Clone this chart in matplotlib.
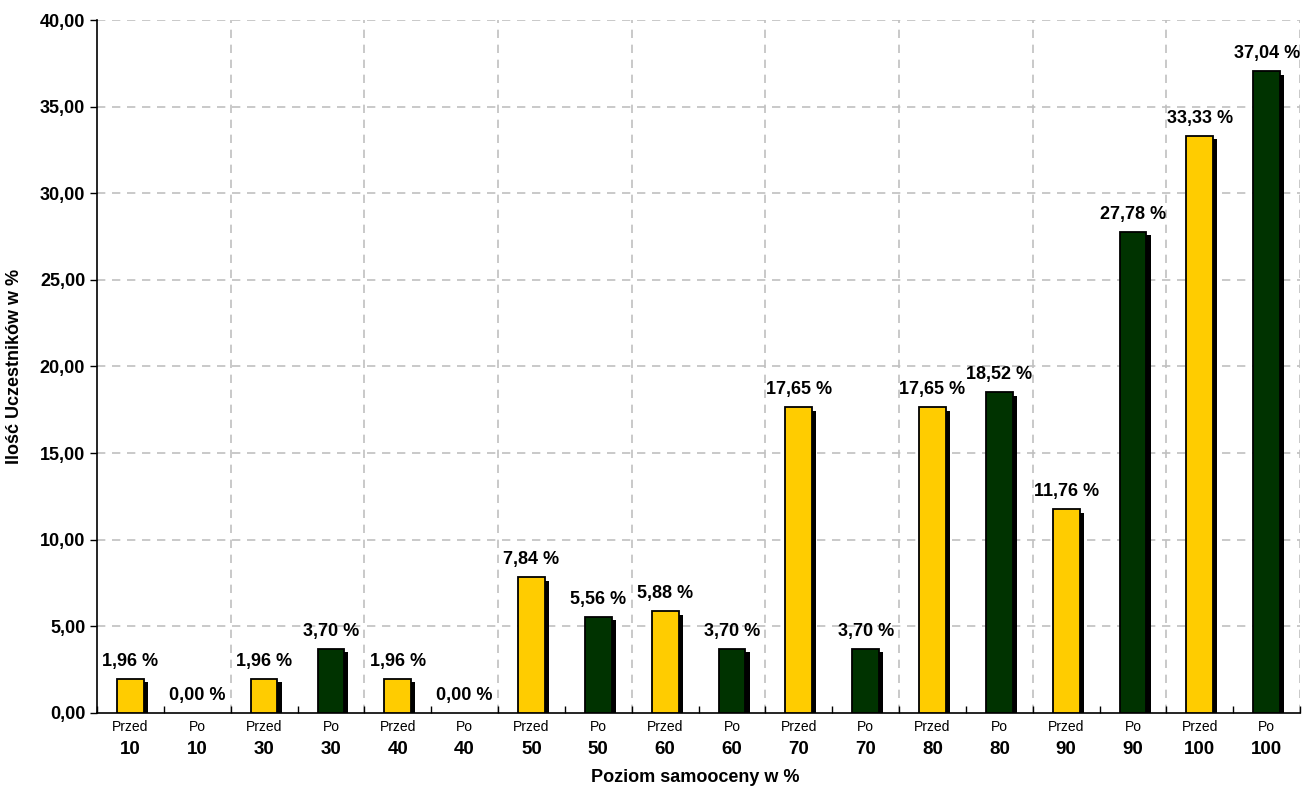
import numpy as np
import matplotlib.pyplot as plt
import matplotlib.patheffects as pe
from matplotlib.ticker import FuncFormatter, MultipleLocator

plt.rcParams['font.family'] = ['Liberation Sans', 'DejaVu Sans']

# data
levels = ["10", "30", "40", "50", "60", "70", "80", "90", "100"]
przed = [1.96, 1.96, 1.96, 7.84, 5.88, 17.65, 17.65, 11.76, 33.33]
po = [0.00, 3.70, 0.00, 5.56, 3.70, 3.70, 18.52, 27.78, 37.04]

labels_top = []
labels_bot = []
values = []
colors = []
for lv, a, b in zip(levels, przed, po):
    labels_top += ["Przed", "Po"]
    labels_bot += [lv, lv]
    values += [a, b]
    colors += ["#FFCC00", "#003300"]

fig = plt.figure(figsize=(13.04, 7.88), dpi=100)
ax = fig.add_axes([0.0744, 0.0952, 0.9226, 0.8794])

x = np.arange(len(values))
shadow = [pe.SimplePatchShadow(offset=(3, -2.5), shadow_rgbFace='black', alpha=1.0), pe.Normal()]
for xi, v, c in zip(x, values, colors):
    if v <= 0:
        continue
    b = ax.bar(xi, v, width=0.4, color=c, edgecolor='black', linewidth=1.3, zorder=3)
    b[0].set_path_effects(shadow)

for xi, v in zip(x, values):
    txt = f"{v:.2f} %".replace('.', ',')
    ax.annotate(txt, (xi, v), xytext=(0, 6.5), textcoords='offset points',
                ha='center', va='bottom', fontsize=13, fontweight='bold', zorder=4)

ax.set_xlim(-0.5, len(values) - 0.5)
ax.set_ylim(0, 40)
ax.yaxis.set_major_locator(MultipleLocator(5))
ax.yaxis.set_major_formatter(FuncFormatter(lambda v, p: f"{v:.2f}".replace('.', ',')))
ax.tick_params(axis='y', labelsize=13, length=5, width=1, direction='out')
for t in ax.get_yticklabels():
    t.set_fontweight('bold')

# horizontal grid
for yv in np.arange(5, 41, 5):
    ax.axhline(yv, color='#C0C0C0', linestyle=(0, (5, 4)), linewidth=1.2, zorder=1)
# vertical grid between groups and on the right edge
for xv in np.arange(1.5, len(values) + 0.5, 2):
    ax.axvline(xv, color='#C0C0C0', linestyle=(0, (5, 4)), linewidth=1.2, zorder=1)

ax.spines['top'].set_visible(False)
ax.spines['right'].set_visible(False)
ax.spines['left'].set_linewidth(1.2)
ax.spines['bottom'].set_linewidth(1.2)

# bottom ticks at slot boundaries
ax.set_xticks(np.arange(-0.5, len(values), 1))
ax.set_xticklabels([])
ax.tick_params(axis='x', direction='in', length=5, width=1)

trans = ax.get_xaxis_transform()
for xi, t1, t2 in zip(x, labels_top, labels_bot):
    ax.text(xi, -0.010, t1, transform=trans, ha='center', va='top', fontsize=10)
    ax.text(xi, -0.040, t2, transform=trans, ha='center', va='top', fontsize=13.5, fontweight='bold')

ax.set_ylabel("Ilość Uczestników w %", fontsize=13, fontweight='bold', labelpad=12)
fig.text(0.533, 0.002, "Poziom samooceny w %", ha='center', va='bottom', fontsize=13, fontweight='bold')

fig.savefig("out.png", dpi=100)
